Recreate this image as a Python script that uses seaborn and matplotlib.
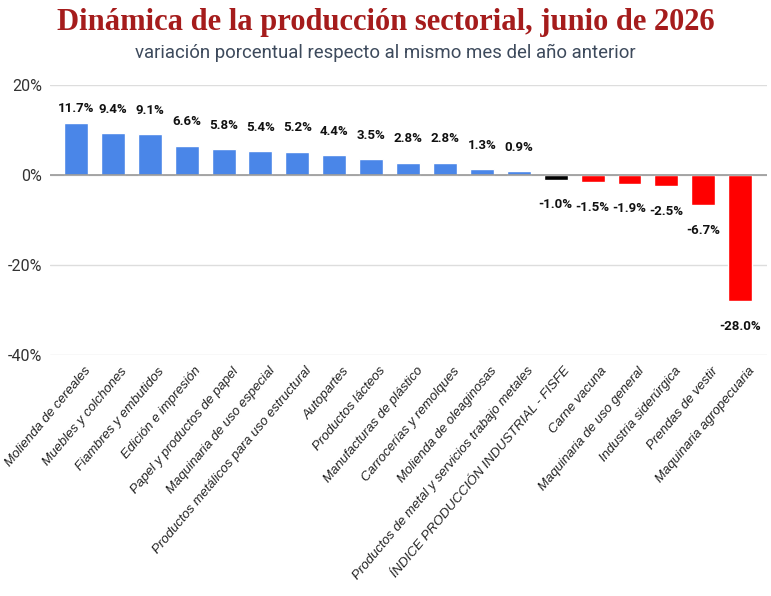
import pandas as pd
import matplotlib.pyplot as plt
import matplotlib.transforms as mtransforms
import seaborn as sns
from matplotlib.ticker import FuncFormatter

sectores = [
    "Molienda de cereales", "Muebles y colchones", "Fiambres y embutidos",
    "Edición e impresión", "Papel y productos de papel",
    "Maquinaria de uso especial", "Productos metálicos para uso estructural",
    "Autopartes", "Productos lácteos", "Manufacturas de plástico",
    "Carrocerías y remolques", "Molienda de oleaginosas",
    "Productos de metal y servicios trabajo metales",
    "ÍNDICE PRODUCCIÓN INDUSTRIAL - FISFE", "Carne vacuna",
    "Maquinaria de uso general", "Industria siderúrgica",
    "Prendas de vestir", "Maquinaria agropecuaria",
]
variacion = [11.7, 9.4, 9.1, 6.6, 5.8, 5.4, 5.2, 4.4, 3.5, 2.8, 2.8, 1.3, 0.9,
             -1.0, -1.5, -1.9, -2.5, -6.7, -28.0]

df = pd.DataFrame({"sector": sectores, "var": variacion})

colores = []
for s, v in zip(sectores, variacion):
    if s.startswith("ÍNDICE"):
        colores.append("#000000")
    elif v < 0:
        colores.append("#ff0000")
    else:
        colores.append("#4a86e8")

sns.set_style("white")
plt.rcParams['font.family'] = ['Roboto', 'DejaVu Sans']

fig = plt.figure(figsize=(7.71, 5.96), dpi=100)
ax = fig.add_axes([0.065, 0.404, 0.93, 0.453])

sns.barplot(data=df, x="sector", y="var", hue="sector", palette=colores,
            legend=False, width=0.65, saturation=1, ax=ax)

ax.set_ylim(-40, 20)
ax.set_xlim(-0.7, 18.73)
ax.set_yticks([20, 0, -20, -40])
ax.yaxis.set_major_formatter(FuncFormatter(lambda v, p: f"{v:.0f}%"))
ax.grid(axis="y", color="#dddddd", linewidth=1)
ax.axhline(0, color="#999999", linewidth=1.2, zorder=3)
ax.set_axisbelow(True)
sns.despine(ax=ax, left=True, bottom=True)
ax.tick_params(axis="both", length=0)
ax.tick_params(axis="y", labelsize=11.5, labelcolor="#333333", pad=6)
ax.set_xlabel("")
ax.set_ylabel("")

ax.set_xticks(range(len(sectores)))
ax.set_xticklabels(sectores, rotation=50, ha="right", rotation_mode="anchor",
                   fontsize=9.5, fontstyle="italic", color="#222222",
                   family="Liberation Sans")
shift = mtransforms.ScaledTranslation(0.08, -0.05, fig.dpi_scale_trans)
for t in ax.get_xticklabels():
    t.set_transform(t.get_transform() + shift)

# etiquetas de valor: arriba las positivas (con tope), abajo las negativas
for i, v in enumerate(variacion):
    y = min(v + 5.3, 14.9) if v > 0 else v - 5.6
    ax.text(i, y, f"{v:.1f}%", ha="center", va="center", fontsize=9.5,
            fontweight="bold", color="#111111")

fig.text(0.5, 0.963, "Dinámica de la producción sectorial, junio de 2026",
         ha="center", va="center", fontsize=22, fontweight="bold",
         family="Liberation Serif", color="#a51c1c")
fig.text(0.5, 0.912, "variación porcentual respecto al mismo mes del año anterior",
         ha="center", va="center", fontsize=13.4, color="#3d4a5c")

fig.savefig("out.png", dpi=100)
